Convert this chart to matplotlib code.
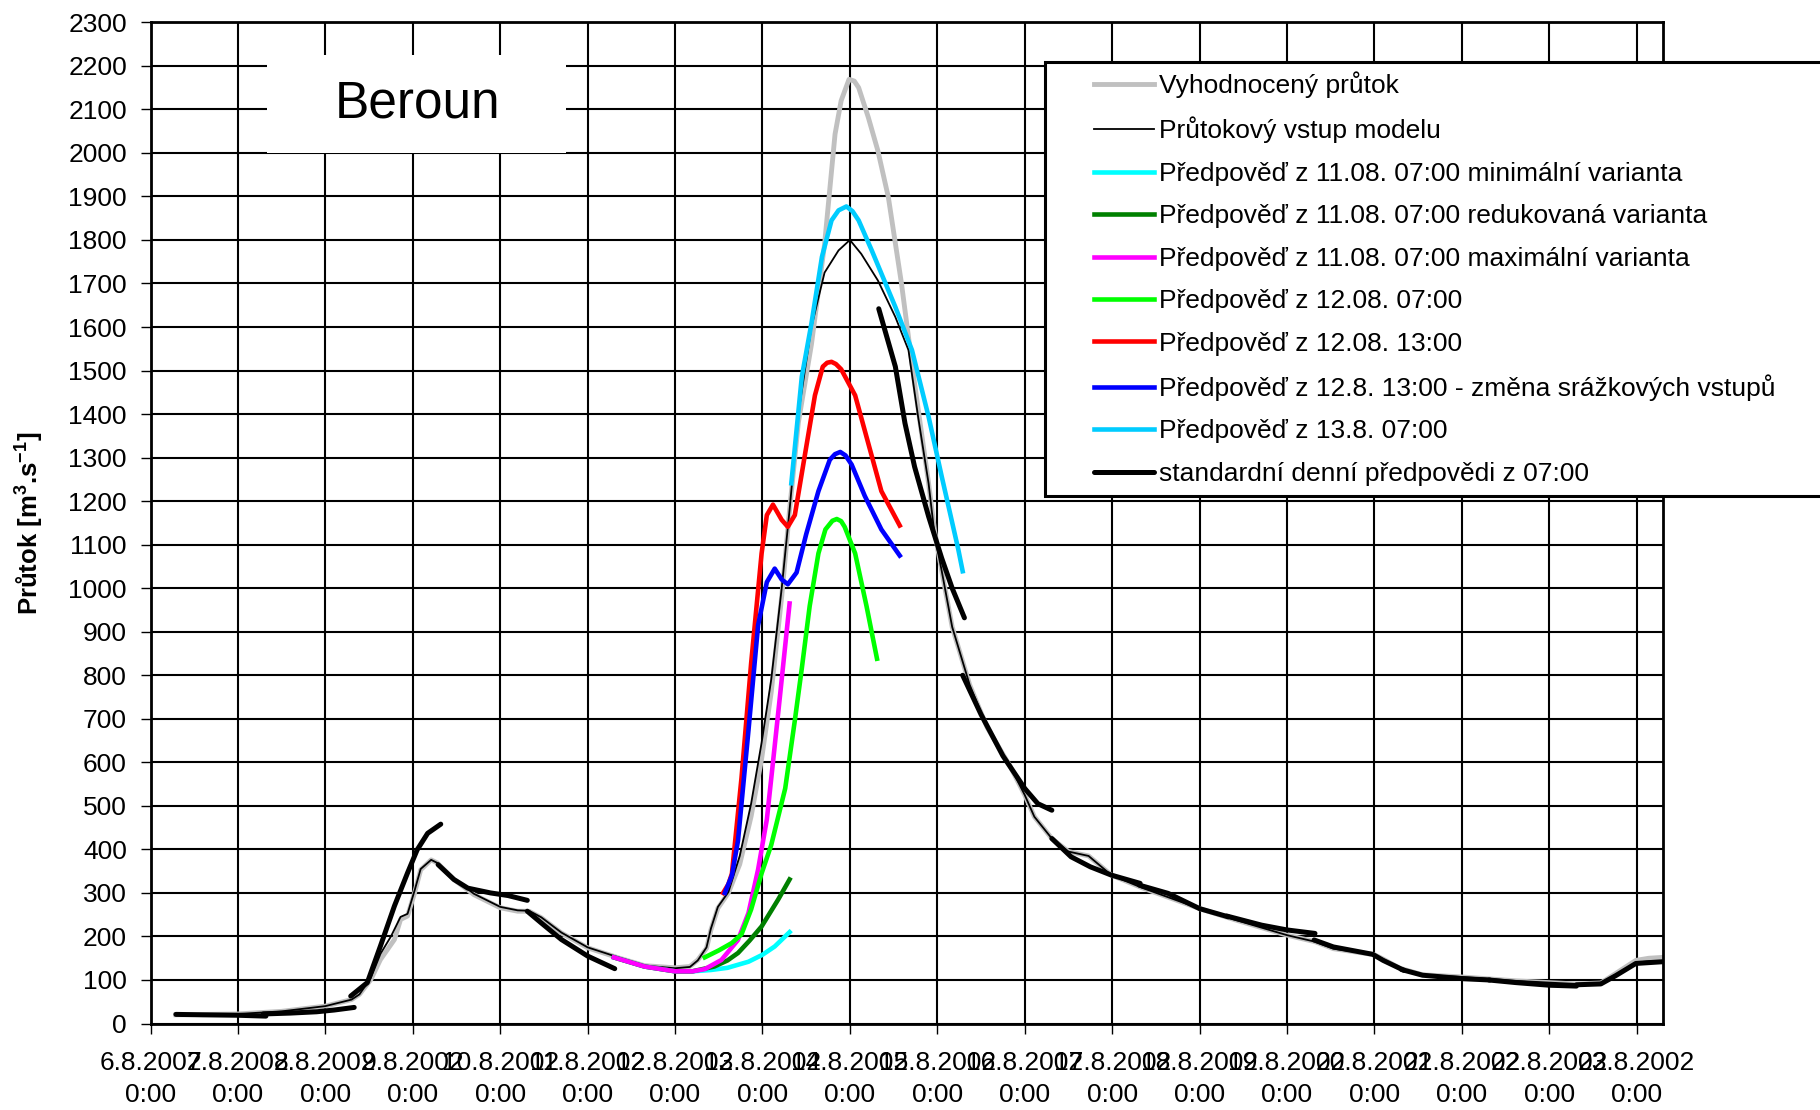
import matplotlib
matplotlib.use('Agg')
import matplotlib.pyplot as plt
from matplotlib.patches import Rectangle

plt.rcParams['font.family'] = ['Liberation Sans', 'DejaVu Sans']
plt.rcParams['mathtext.fontset'] = 'custom'
plt.rcParams['mathtext.rm'] = 'Liberation Sans'
plt.rcParams['mathtext.bf'] = 'Liberation Sans:bold'

# x = days since 6.8.2002 0:00, y = discharge [m3/s]
grey_day = [0.29, 1.0, 1.5, 2.0, 2.3, 2.39, 2.52, 2.63, 2.79, 2.86, 2.94, 3.02, 3.09, 3.21, 3.28,
            3.47, 3.70, 4.0, 4.2, 4.33, 4.47, 4.70, 5.0, 5.23, 5.35, 5.65, 6.0, 6.17, 6.26, 6.36,
            6.41, 6.49, 6.61, 6.74, 6.87, 6.99, 7.10, 7.22, 7.31, 7.41, 7.56, 7.71, 7.83, 7.90, 7.99,
            8.05, 8.10, 8.21, 8.32, 8.44, 8.59, 8.74, 8.90, 8.97, 9.05, 9.17, 9.37, 9.57, 9.83, 10.0,
            10.11, 10.31, 10.50, 10.73, 10.99, 11.34, 12.0, 12.41, 13.0, 13.32, 13.53, 14.0, 14.1, 14.29,
            14.55, 15.0, 15.62, 16.0, 16.3, 16.59, 16.76, 16.99, 17.14, 17.3]
grey_val = [20, 22, 28, 40, 55, 67, 101, 147, 193, 239, 247, 300, 353, 376, 369,
            331, 296, 266, 258, 258, 243, 208, 174, 159, 151, 133, 128, 131, 146, 173,
            215, 265, 300, 366, 476, 608, 761, 981, 1180, 1380, 1560, 1790, 2043, 2120, 2169,
            2165, 2150, 2082, 2005, 1898, 1700, 1470, 1241, 1130, 1040, 911, 778, 680, 592, 525,
            475, 425, 395, 385, 341, 312, 264, 238, 203, 188, 172, 158, 148, 127,
            112, 107, 98, 94, 91, 93, 115, 145, 150, 152]

thin_day = [0.29, 1.0, 1.5, 2.0, 2.3, 2.39, 2.52, 2.63, 2.75, 2.86, 2.94, 3.02, 3.09, 3.21, 3.28,
            3.47, 3.70, 4.0, 4.2, 4.33, 4.47, 4.70, 5.0, 5.23, 5.35, 5.65, 6.0, 6.17, 6.26, 6.36,
            6.41, 6.49, 6.61, 6.74, 6.87, 6.99, 7.10, 7.22, 7.31, 7.41, 7.56, 7.71, 7.87, 8.0, 8.13,
            8.32, 8.52, 8.67, 8.78, 8.90, 8.97, 9.05, 9.17, 9.37, 9.57, 9.83, 10.0, 10.11, 10.31, 10.50,
            10.73, 10.99, 11.34, 12.0, 12.41, 13.0, 13.32, 13.53, 14.0, 14.1, 14.29, 14.55, 15.0, 15.62,
            16.0, 16.3, 16.59, 16.76, 16.99, 17.14, 17.3]
thin_val = [20, 22, 28, 40, 55, 67, 105, 160, 200, 245, 252, 305, 355, 376, 369,
            333, 298, 268, 260, 259, 244, 209, 175, 160, 152, 133, 127, 130, 145, 175,
            218, 268, 302, 385, 505, 645, 790, 1000, 1180, 1400, 1600, 1725, 1776, 1800, 1768,
            1707, 1623, 1547, 1394, 1241, 1120, 1040, 911, 778, 680, 592, 525, 475, 425, 395,
            385, 341, 312, 264, 238, 203, 188, 172, 158, 148, 127, 112, 107, 98,
            94, 91, 93, 112, 140, 143, 143]

# forecast 11.08. 07:00 - three variants
min_day = [5.30, 5.5, 5.65, 6.0, 6.2, 6.41, 6.6, 6.84, 7.0, 7.14, 7.31]
min_val = [152, 140, 131, 120, 120, 123, 128, 142, 158, 177, 210]
red_var_day = [5.30, 5.5, 5.65, 6.0, 6.2, 6.45, 6.6, 6.72, 6.85, 6.99, 7.18, 7.31]
red_var_val = [152, 140, 131, 120, 120, 131, 145, 162, 190, 223, 285, 331]
max_day = [5.30, 5.5, 5.65, 6.0, 6.2, 6.34, 6.53, 6.72, 6.84, 6.95, 7.05, 7.12, 7.2, 7.31]
max_val = [152, 140, 131, 120, 120, 125, 146, 192, 254, 354, 469, 600, 752, 965]

f1207_day = [6.34, 6.5, 6.65, 6.76, 6.87, 6.99, 7.10, 7.26, 7.37, 7.45, 7.54, 7.64, 7.72, 7.80,
             7.85, 7.90, 7.94, 8.06, 8.19, 8.31]
f1207_val = [152, 168, 185, 205, 262, 345, 410, 540, 696, 816, 959, 1080, 1135, 1155,
             1159, 1154, 1141, 1080, 959, 838]
f1213_day = [6.55, 6.61, 6.65, 6.76, 6.87, 6.99, 7.05, 7.12, 7.22, 7.29, 7.37, 7.48, 7.60, 7.69,
             7.74, 7.79, 7.84, 7.90, 8.06, 8.21, 8.36, 8.57]
f1213_val = [300, 320, 344, 564, 827, 1080, 1168, 1192, 1157, 1141, 1168, 1300, 1443, 1509,
             1518, 1520, 1515, 1503, 1443, 1333, 1223, 1144]
f1213b_day = [6.57, 6.65, 6.72, 6.84, 6.95, 7.05, 7.14, 7.22, 7.29, 7.39, 7.50, 7.64, 7.77, 7.83,
              7.89, 7.95, 8.02, 8.17, 8.36, 8.57]
f1213b_val = [300, 340, 420, 674, 915, 1014, 1045, 1020, 1009, 1036, 1124, 1223, 1295, 1308,
              1313, 1305, 1284, 1212, 1135, 1075]
f1307_day = [7.33, 7.45, 7.56, 7.68, 7.79, 7.87, 7.96, 8.03, 8.10, 8.25, 8.52, 8.71, 8.90, 9.05,
             9.24, 9.29]
f1307_val = [1241, 1486, 1608, 1761, 1845, 1868, 1877, 1866, 1845, 1776, 1646, 1547, 1394, 1257,
             1089, 1039]

# standard daily forecasts from 07:00
std_days = [
    [0.29, 0.6, 1.0, 1.32],
    [1.29, 1.6, 1.9, 2.1, 2.33],
    [2.29, 2.48, 2.63, 2.79, 2.94, 3.05, 3.17, 3.32],
    [3.29, 3.47, 3.63, 3.89, 4.09, 4.31],
    [4.31, 4.47, 4.70, 5.0, 5.31],
    [8.33, 8.52, 8.63, 8.74, 8.90, 9.05, 9.17, 9.31],
    [9.29, 9.5, 9.75, 10.0, 10.15, 10.31],
    [10.31, 10.53, 10.75, 10.99, 11.32],
    [11.31, 11.64, 12.0, 12.33],
    [12.31, 12.71, 13.0, 13.32],
    [13.31, 13.53, 13.98, 14.1, 14.34],
    [14.31, 14.55, 15.01, 15.32],
    [15.31, 15.62, 16.0, 16.31],
    [16.31, 16.59, 16.76, 16.99, 17.3],
]
std_vals = [
    [21, 20, 19, 17],
    [22, 24, 27, 31, 37],
    [63, 94, 178, 270, 346, 399, 437, 458],
    [365, 331, 311, 300, 294, 283],
    [258, 231, 193, 155, 126],
    [1642, 1509, 1379, 1279, 1165, 1069, 1000, 932],
    [800, 710, 615, 540, 505, 490],
    [425, 383, 360, 341, 322],
    [318, 299, 264, 245],
    [247, 226, 215, 207],
    [192, 176, 159, 145, 122],
    [124, 111, 103, 100],
    [100, 94, 88, 86],
    [89, 91, 110, 138, 142],
]

tick_days = list(range(18))
tick_labels = ['%d.8.2002\n0:00' % (6 + d) for d in tick_days]

labels = ['Vyhodnocený průtok',
          'Průtokový vstup modelu',
          'Předpověď z 11.08. 07:00 minimální varianta',
          'Předpověď z 11.08. 07:00 redukovaná varianta',
          'Předpověď z 11.08. 07:00 maximální varianta',
          'Předpověď z 12.08. 07:00',
          'Předpověď z 12.08. 13:00',
          'Předpověď z 12.8. 13:00 - změna srážkových vstupů',
          'Předpověď z 13.8. 07:00',
          'standardní denní předpovědi z 07:00']

fig = plt.figure(figsize=(18.2, 11.1), dpi=100)
ax = fig.add_axes([0.0827, 0.0779, 0.831, 0.902])

handles = []
handles += ax.plot(grey_day, grey_val, color='#C0C0C0', lw=3.5, label=labels[0])
handles += ax.plot(thin_day, thin_val, color='black', lw=1.3, label=labels[1])
handles += ax.plot(min_day, min_val, color='#00FFFF', lw=3.3, label=labels[2])
handles += ax.plot(red_var_day, red_var_val, color='#008000', lw=3.3, label=labels[3])
handles += ax.plot(max_day, max_val, color='#FF00FF', lw=3.3, label=labels[4])
handles += ax.plot(f1207_day, f1207_val, color='#00FF00', lw=3.3, label=labels[5])
handles += ax.plot(f1213_day, f1213_val, color='#FF0000', lw=3.3, label=labels[6])
handles += ax.plot(f1213b_day, f1213b_val, color='#0000FF', lw=3.3, label=labels[7])
handles += ax.plot(f1307_day, f1307_val, color='#00CCFF', lw=3.3, label=labels[8])
for i in range(len(std_days)):
    h = ax.plot(std_days[i], std_vals[i], color='black', lw=3.6, solid_capstyle='round')
    if i == 0:
        h[0].set_label(labels[9])
        handles += h

ax.set_xlim(0, 17.3)
ax.set_ylim(0, 2300)
ax.set_xticks(tick_days)
ax.set_xticklabels(tick_labels, fontsize=19, linespacing=1.4)
ax.set_yticks(range(0, 2301, 100))
ax.tick_params(axis='y', labelsize=19, length=7, width=1, pad=10)
ax.tick_params(axis='x', length=7, width=1, pad=13)
ax.set_axisbelow(True)
ax.grid(True, color='black', lw=1.5)
for s in ax.spines.values():
    s.set_linewidth(2)

ax.set_ylabel(r'Průtok [m$^{\mathbf{3}}$.s$^{\mathbf{-1}}$]', fontsize=18.5, fontweight='bold')
ax.yaxis.set_label_coords(-0.0697, 0.5)

# title box
ax.add_patch(Rectangle((0.077, 0.8697), 0.198, 0.0976, transform=ax.transAxes,
                       facecolor='white', edgecolor='none', zorder=1))
ax.text(0.1767, 0.918, 'Beroun', transform=ax.transAxes, fontsize=37,
        ha='center', va='center', zorder=1.1)

# legend frame (runs past the figure edge)
ax.add_patch(Rectangle((1045 / 1820, 1 - 496 / 1110), 800 / 1820, 434 / 1110,
                       transform=fig.transFigure, facecolor='white', edgecolor='black',
                       lw=2.2, clip_on=False, zorder=4))
ax.legend(handles=handles, loc='upper left', bbox_to_anchor=(1094 / 1820, 1 - 71.5 / 1110),
          bbox_transform=fig.transFigure, frameon=False, fontsize=19, borderpad=0,
          borderaxespad=0, handlelength=2.27, handletextpad=0.19, labelspacing=0.70)

fig.savefig('out.png', dpi=100)
